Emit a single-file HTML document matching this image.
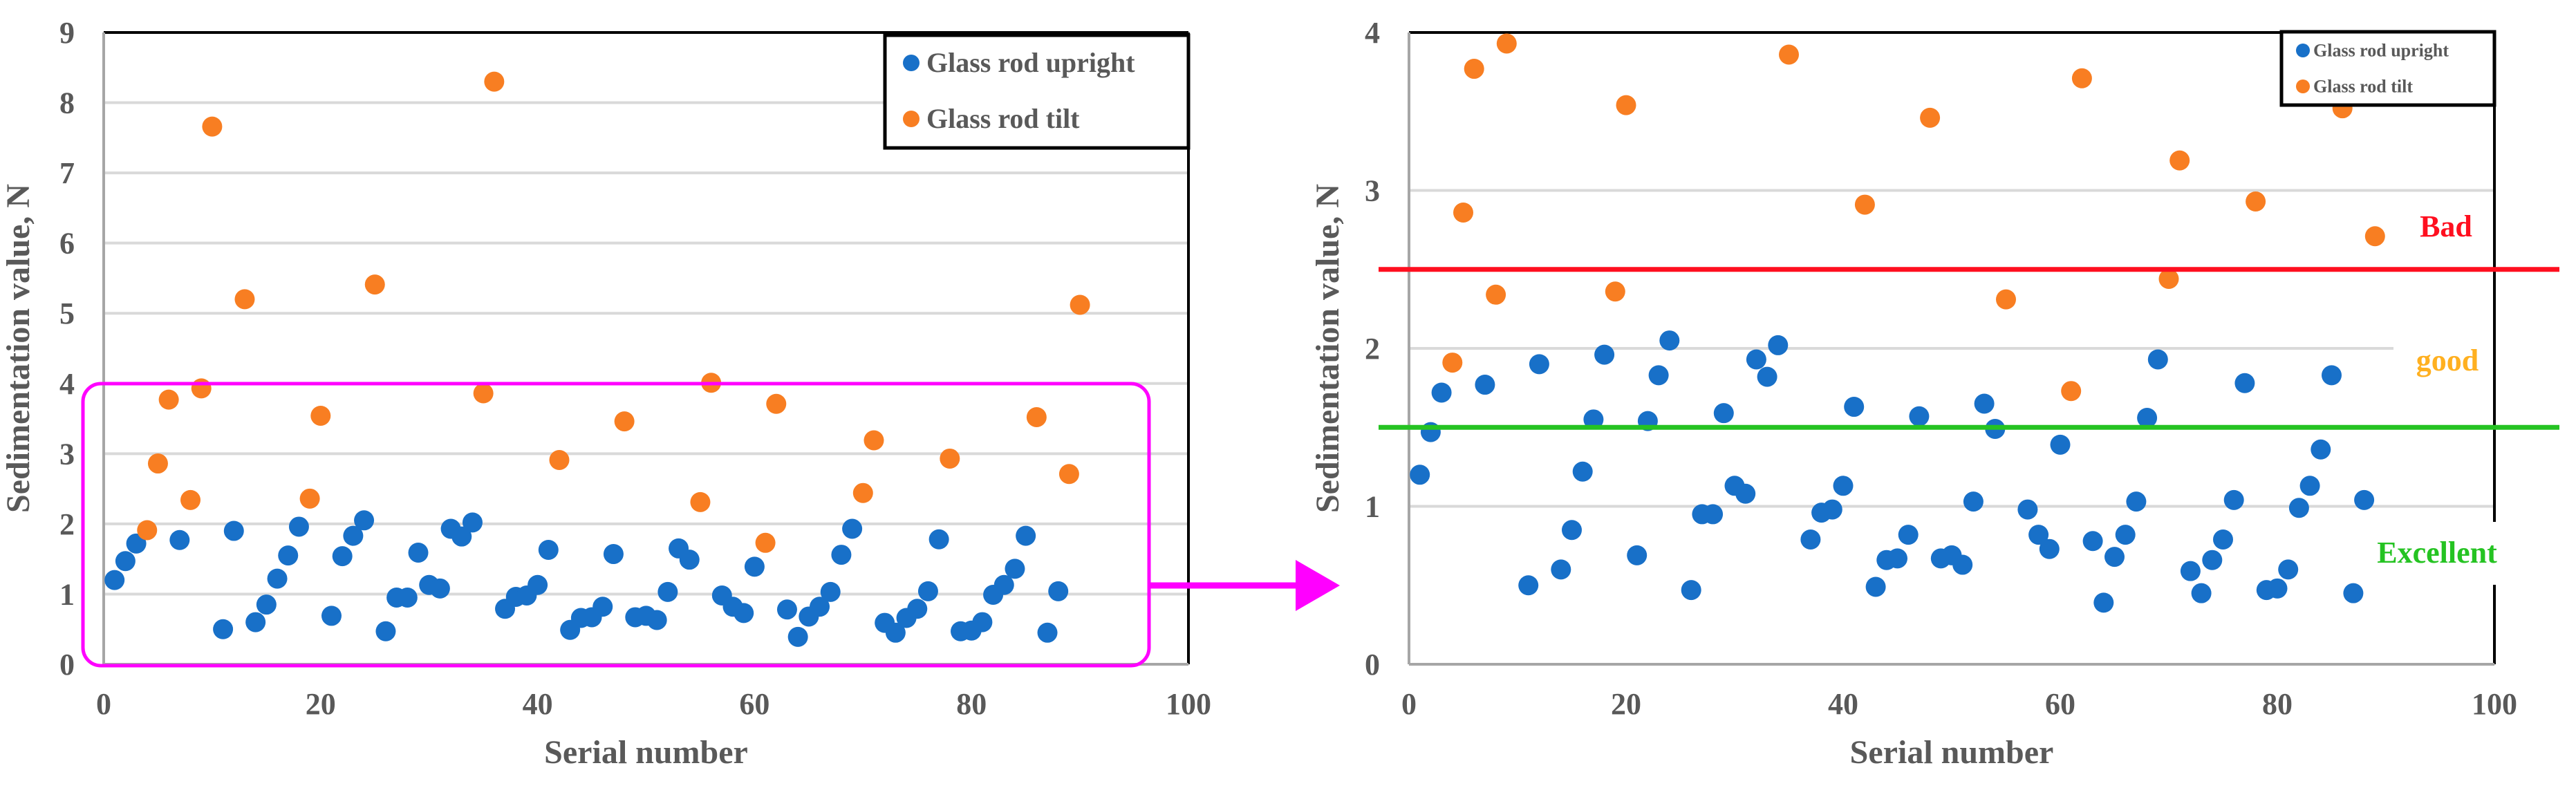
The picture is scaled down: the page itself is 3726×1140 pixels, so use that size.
<!DOCTYPE html>
<html><head><meta charset="utf-8"><style>
html,body{margin:0;padding:0;background:#fff;}
svg{display:block;font-family:"Liberation Serif",serif;font-weight:bold;}
</style></head><body>
<svg id="chart" width="3726" height="1140" viewBox="0 0 3726 1140" xmlns="http://www.w3.org/2000/svg"></svg>
<script>
const uprightSerials=[1,2,3,7,11,12,14,15,16,17,18,21,22,23,24,26,27,28,29,30,31,32,33,34,37,38,39,40,41,43,44,45,46,47,49,50,51,52,53,54,57,58,59,60,63,64,65,66,67,68,69,72,73,74,75,76,77,79,80,81,82,83,84,85,87,88];
const uprightValues=[1.20,1.47,1.72,1.77,0.50,1.90,0.60,0.85,1.22,1.55,1.96,0.69,1.54,1.83,2.05,0.47,0.95,0.95,1.59,1.13,1.08,1.93,1.82,2.02,0.79,0.96,0.98,1.13,1.63,0.49,0.66,0.67,0.82,1.57,0.67,0.69,0.63,1.03,1.65,1.49,0.98,0.82,0.73,1.39,0.78,0.39,0.68,0.82,1.03,1.56,1.93,0.59,0.45,0.66,0.79,1.04,1.78,0.47,0.48,0.60,0.99,1.13,1.36,1.83,0.45,1.04];
const tiltSerials=[4,5,6,8,9,10,13,19,20,25,35,36,42,48,55,56,61,62,70,71,78,86,89,90];
const tiltValues=[1.91,2.86,3.77,2.34,3.93,7.66,5.20,2.36,3.54,5.41,3.86,8.30,2.91,3.46,2.31,4.01,1.73,3.71,2.44,3.19,2.93,3.52,2.71,5.12];
const xTicks=[0,20,40,60,80,100];
const leftYTicks=[0,1,2,3,4,5,6,7,8,9];
const rightYTicks=[0,1,2,3,4];
const thresholds=[2.5,1.5];

const NS="http://www.w3.org/2000/svg";
const svg=document.getElementById('chart');
function mk(tag,attrs,parent,text){const e=document.createElementNS(NS,tag);for(const k in attrs)e.setAttribute(k,attrs[k]);if(text!==undefined)e.textContent=text;(parent||svg).appendChild(e);return e;}
const BLUE="#1870c8",ORANGE="#f87e22",GRAY="#595959";

function panel(name,x0,x1,yTop,yBot,ymax,ticks,showAll,legend){
  const g=mk('g',{});
  
  
  const sx=v=>x0+(x1-x0)*v/100;
  const sy=v=>yBot-(yBot-yTop)*v/ymax;
  // gridlines
  ticks.forEach(t=>{ if(t>0&&t<ymax){
    let xe=x1; if(name==='right-chart'&&t===2) xe=3462;
    const l=mk('line',{x1:x0,x2:xe,y1:sy(t),y2:sy(t),stroke:'#d9d9d9','stroke-width':4},g);
    
    
  }});
  // borders
  mk('line',{x1:x0,x2:x1,y1:yTop,y2:yTop,stroke:'#000','stroke-width':4},g);
  if(name==='right-chart'){
    mk('line',{x1:x1,x2:x1,y1:yTop,y2:755,stroke:'#000','stroke-width':4},g);
    mk('line',{x1:x1,x2:x1,y1:846,y2:yBot,stroke:'#000','stroke-width':4},g);
  } else mk('line',{x1:x1,x2:x1,y1:yTop,y2:yBot,stroke:'#000','stroke-width':4},g);
  const ya=mk('line',{x1:x0,x2:x0,y1:yTop,y2:yBot,stroke:'#a6a6a6','stroke-width':4},g);
  
  
  const xa=mk('line',{x1:x0,x2:x1,y1:yBot,y2:yBot,stroke:'#a6a6a6','stroke-width':4},g);
  
  
  ticks.forEach(t=>{
    const tl=mk('text',{x:x0-42,y:sy(t)+15,'text-anchor':'end','font-size':44,fill:GRAY},g,String(t));
    
    
  });
  xTicks.forEach(t=>{
    const tl=mk('text',{x:sx(t),y:1033,'text-anchor':'middle','font-size':44,fill:GRAY},g,String(t));
    
    
  });
  const xt=mk('text',{x:(x0+x1)/2,y:1104,'text-anchor':'middle','font-size':48,fill:GRAY},g,'Serial number');
  
  
  const ycx=name==='right-chart'?x0-102:x0-108;
  const yt=mk('text',{x:ycx,y:(yTop+yBot)/2,'text-anchor':'middle','font-size':48,fill:GRAY,transform:`rotate(-90 ${ycx} ${(yTop+yBot)/2})`},g,'Sedimentation value, N');
  
  
  uprightSerials.forEach((s,i)=>{
    const c=mk('circle',{cx:sx(s),cy:sy(uprightValues[i]),r:14.5,fill:BLUE},g);
    
    
  });
  tiltSerials.forEach((s,i)=>{
    const v=tiltValues[i]; if(v>ymax) return;
    const c=mk('circle',{cx:sx(s),cy:sy(v),r:14.5,fill:ORANGE},g);
    
    
  });
  // legend
  const lg=mk('g',{},g);
  
  
  mk('rect',{x:legend.x,y:legend.y,width:legend.w,height:legend.h,fill:'#fff',stroke:'#000','stroke-width':5},lg);
  [['Glass rod upright',BLUE,legend.y1],['Glass rod tilt',ORANGE,legend.y2]].forEach(([t,c,yy])=>{
    const e=mk('g',{},lg);
    
    
    mk('circle',{cx:legend.mx,cy:yy,r:legend.r,fill:c},e);
    mk('text',{x:legend.tx,y:yy+legend.fs*0.33,'font-size':legend.fs,fill:GRAY},e,t);
  });
  return {sx,sy,g};
}
const L=panel('left-chart',150,1719,47,961,9,leftYTicks,true,{x:1280,y:51,w:439,h:163,mx:1318,tx:1340,y1:91,y2:172,r:12,fs:40});
const R=panel('right-chart',2038,3608,47,961,4,rightYTicks,true,{x:3300,y:46,w:308,h:106,mx:3331,tx:3346,y1:73,y2:125,r:10,fs:26});

// threshold lines
const bad=mk('line',{x1:1994,x2:3702,y1:R.sy(thresholds[0]),y2:R.sy(thresholds[0]),stroke:'#ff0f1f','stroke-width':7});


const exc=mk('line',{x1:1994,x2:3702,y1:R.sy(thresholds[1]),y2:R.sy(thresholds[1]),stroke:'#25c322','stroke-width':7});


const t1=mk('text',{x:3538,y:342,'text-anchor':'middle','font-size':44,fill:'#ff0f1f'},svg,'Bad');


const t2=mk('text',{x:3540,y:536,'text-anchor':'middle','font-size':44,fill:'#ffb020'},svg,'good');


const t3=mk('text',{x:3525,y:814,'text-anchor':'middle','font-size':44,fill:'#25c322'},svg,'Excellent');



// magenta highlight + arrow
const box=mk('rect',{x:120,y:555,width:1542,height:408,rx:26,ry:26,fill:'none',stroke:'#ff00ff','stroke-width':5});


const al=mk('line',{x1:1662,x2:1876,y1:847,y2:847,stroke:'#ff00ff','stroke-width':9});


const ah=mk('polygon',{points:'1874,810 1938,847 1874,884',fill:'#ff00ff'});


</script>
</body></html>
